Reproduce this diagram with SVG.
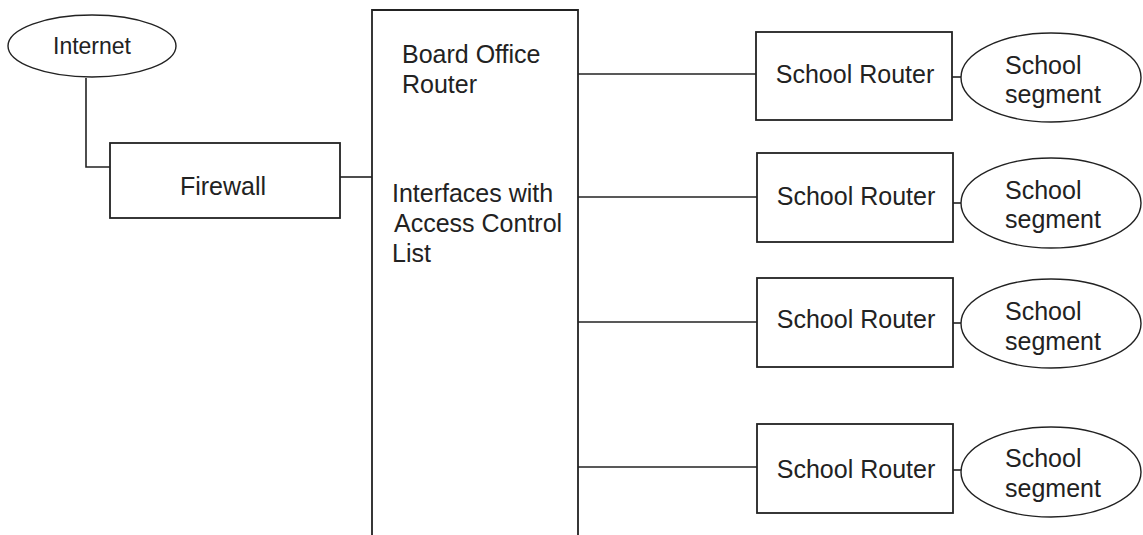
<svg xmlns="http://www.w3.org/2000/svg" width="1143" height="535" viewBox="0 0 1143 535">
<style>
.box{fill:#fff;stroke:#222;stroke-width:1.8}
.ell{fill:#fff;stroke:#222;stroke-width:1.4}
.ln{fill:none;stroke:#222;stroke-width:1.6}
text{font-family:"Liberation Sans",Arial,sans-serif;font-size:25px;fill:#222}
.c{text-anchor:middle}
</style>
<rect width="1143" height="535" fill="#fff"/>
<g id="connectors">
<path class="ln" d="M86,78 V167 H110"/>
<path class="ln" d="M340,177 H372"/>
<path class="ln" d="M578,74 H756"/>
<path class="ln" d="M578,197 H757"/>
<path class="ln" d="M578,322 H757"/>
<path class="ln" d="M578,467 H757"/>
<path class="ln" d="M952,77 H961"/>
<path class="ln" d="M953,203 H961"/>
<path class="ln" d="M953,323 H961"/>
<path class="ln" d="M953,470 H961"/>
</g>
<g id="internet">
<ellipse class="ell" cx="92" cy="46" rx="84" ry="31"/>
<text class="c" x="92" y="54" style="font-size:23px">Internet</text>
</g>
<g id="firewall">
<rect class="box" x="110" y="143" width="230" height="75"/>
<text class="c" x="223" y="195">Firewall</text>
</g>
<g id="board-office-router">
<path class="box" d="M372,545 V10 H578 V545"/>
<text x="402" y="63">Board Office</text>
<text x="402" y="93">Router</text>
<text x="392" y="202">Interfaces with</text>
<text x="394" y="232">Access Control</text>
<text x="392" y="262">List</text>
</g>
<g id="school-router-1">
<rect class="box" x="756" y="32" width="196" height="88"/>
<text class="c" x="855" y="83">School Router</text>
</g>
<g id="school-router-2">
<rect class="box" x="757" y="153" width="196" height="89"/>
<text class="c" x="856" y="205">School Router</text>
</g>
<g id="school-router-3">
<rect class="box" x="757" y="278" width="196" height="89"/>
<text class="c" x="856" y="328">School Router</text>
</g>
<g id="school-router-4">
<rect class="box" x="757" y="424" width="196" height="89"/>
<text class="c" x="856" y="478">School Router</text>
</g>
<g id="school-segment-1">
<ellipse class="ell" cx="1051" cy="77.5" rx="90" ry="44.5"/>
<text x="1005" y="74">School</text>
<text x="1005" y="103">segment</text>
</g>
<g id="school-segment-2">
<ellipse class="ell" cx="1051" cy="203" rx="90" ry="45"/>
<text x="1005" y="199">School</text>
<text x="1005" y="228">segment</text>
</g>
<g id="school-segment-3">
<ellipse class="ell" cx="1051" cy="323.5" rx="90" ry="44.5"/>
<text x="1005" y="320">School</text>
<text x="1005" y="350">segment</text>
</g>
<g id="school-segment-4">
<ellipse class="ell" cx="1051" cy="472" rx="90" ry="45"/>
<text x="1005" y="467">School</text>
<text x="1005" y="497">segment</text>
</g>
</svg>
